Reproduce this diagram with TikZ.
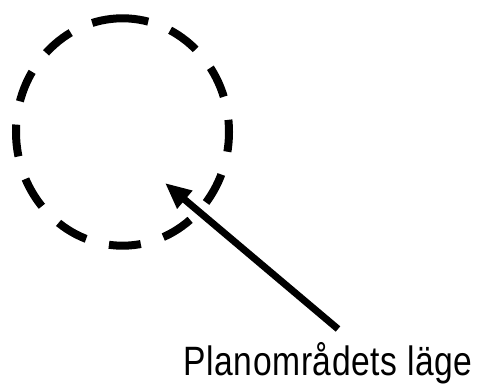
\documentclass[tikz,border=0pt]{standalone}
\usepackage{fontspec}
\setmainfont{Liberation Sans}[FakeStretch=0.82, LetterSpace=1.4]
\usetikzlibrary{arrows.meta}
\tikzset{
  ring/.style={line width=8pt, dash pattern=on 32pt off 23.6pt, dash phase=6pt},
  pointer/.style={line width=7pt, -{Triangle[length=26pt, width=22pt]}},
  caption/.style={anchor=base west, inner sep=0pt, font=\fontsize{41pt}{48pt}\selectfont}
}
\begin{document}
\begin{tikzpicture}[x=1pt, y=-1pt]
  \useasboundingbox (0,0) rectangle (478,387);
  % dashed boundary of the plan area
  \draw[ring] (122.5,18.3) arc[start angle=-90, end angle=270, x radius=106.5, y radius=113.7];
  % arrow pointing into the area
  \coordinate (tail) at (338,329);
  \coordinate (tip) at (165,183);
  \draw[pointer] (tail) -- (tip);
  % label
  \node[caption] (label) at (183.4,375) {Planområdets läge};
\end{tikzpicture}
\end{document}
